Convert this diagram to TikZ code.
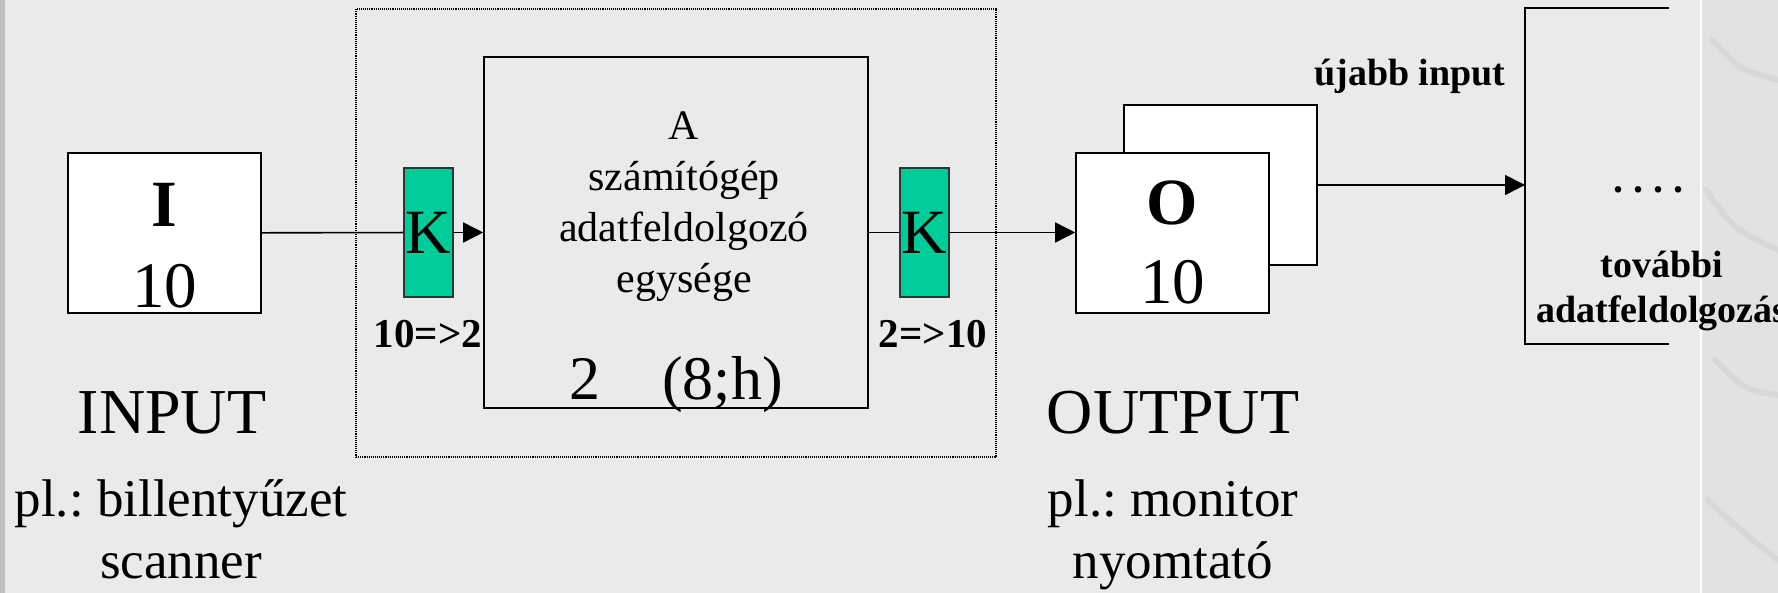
\documentclass[tikz,border=0pt]{standalone}
\usepackage{fontspec}
\setmainfont{Liberation Serif}
\frenchspacing
\usetikzlibrary{arrows.meta}

\definecolor{slidebg}{HTML}{EAEAEA}
\definecolor{kgreen}{HTML}{00CC99}
\definecolor{marble}{HTML}{E2E2E2}

\tikzset{
  unitbox/.style={draw, fill=white, line width=1.6pt, inner sep=0pt,
    minimum width=193pt, minimum height=160pt},
  kbox/.style={draw=black!80, fill=kgreen, line width=1.6pt, inner sep=0pt,
    minimum width=49pt, minimum height=129pt, font=\fontsize{63}{70}\selectfont},
  link/.style={line width=1.6pt},
  flow/.style={link, -{Triangle[length=20pt,width=20pt]}},
  bigtxt/.style={inner sep=0pt, anchor=base, font=\fontsize{64}{70}\selectfont},
  midtxt/.style={inner sep=0pt, anchor=base, align=center, font=\fontsize{53}{62}\selectfont},
  smalltxt/.style={inner sep=0pt, anchor=base, align=center, font=\fontsize{38}{45}\selectfont\bfseries},
}

\begin{document}
\begin{tikzpicture}[x=1pt, y=-1pt]
  \useasboundingbox (0,0) rectangle (1778,593);
  \fill[slidebg] (0,0) rectangle (1778,593);
  \fill[black!25] (0,0) rectangle (5,593);
  % marble strip
  \fill[marble] (1701,0) rectangle (1778,593);
  \draw[white, line width=2pt] (1701,0) -- (1701,593);
  \begin{scope}[gray, opacity=.1, line cap=round, line width=6pt]
    \draw (1712,40) .. controls (1740,70) .. (1778,80);
    \draw (1706,190) .. controls (1735,230) .. (1778,250);
    \draw (1715,360) .. controls (1745,390) .. (1778,395);
    \draw (1708,500) .. controls (1740,530) .. (1778,560);
  \end{scope}

  % frame round the processing unit
  \node[draw, densely dotted, line width=1.1pt, minimum width=640pt, minimum height=448pt]
    (frame) at (676,233) {};
  \node[draw, line width=1.6pt, minimum width=384pt, minimum height=351pt] (cpu) at (676,232.5) {};

  % units
  \node[unitbox] (ibox) at (164.5,233) {};
  \node[unitbox] (oback) at (1220.5,185) {};
  \node[unitbox] (obox) at (1172.5,233) {};
  \node[kbox] (kin) at (428.5,232.5) {K};
  \node[kbox] (kout) at (924.5,232.5) {K};
  \coordinate (next) at (1525,185);
  \draw[link] (1669,8) -- (1525,8) -- (1525,344) -- (1669,344);

  % connectors
  \draw[link] (ibox) -- (kin);
  \draw[flow] (kin) -- (cpu.west |- kin);
  \draw[link] (cpu.east |- kout) -- (kout);
  \draw[flow] (kout) -- (obox.west |- kout);
  \draw[flow] (oback) -- (next);

  % texts
  \node[bigtxt, font=\fontsize{66}{70}\selectfont\bfseries] (iname) at (164.5,227) {I};
  \node[bigtxt, font=\fontsize{65}{70}\selectfont] (ibase) at (164.5,308) {10};
  \node[bigtxt, font=\fontsize{66}{70}\selectfont\bfseries] (oname) at (1172.5,225) {O};
  \node[bigtxt, font=\fontsize{65}{70}\selectfont] (obase) at (1172.5,304) {10};
  \node[inner sep=0pt, anchor=base, align=center, font=\fontsize{42}{51}\selectfont]
    (cpuname) at (684,293) {A\\számítógép\\adatfeldolgozó\\egysége};
  \node[bigtxt, font=\fontsize{62}{70}\selectfont] (cpubase) at (676,400) {2\hspace{1em}(8;h)};
  \node[smalltxt, font=\fontsize{41}{45}\selectfont\bfseries] (kinlbl) at (428,348) {10=>2};
  \node[smalltxt, font=\fontsize{41}{45}\selectfont\bfseries] (koutlbl) at (933,348) {2=>10};
  \node[bigtxt] (inlbl) at (172,433) {INPUT};
  \node[midtxt] (inex) at (181,578) {pl.: billentyűzet\\scanner};
  \node[bigtxt] (outlbl) at (1173,433) {OUTPUT};
  \node[midtxt] (outex) at (1173,578) {pl.: monitor\\nyomtató};
  \node[smalltxt] (newin) at (1410,86) {újabb input};
  \node[smalltxt, font=\fontsize{40}{45}\selectfont\bfseries] (dots) at (1648,193) {.\hspace{10pt}.\hspace{10pt}.\hspace{10pt}.};
  \node[smalltxt] (further) at (1662,323) {további\\adatfeldolgozás};
\end{tikzpicture}
\end{document}
